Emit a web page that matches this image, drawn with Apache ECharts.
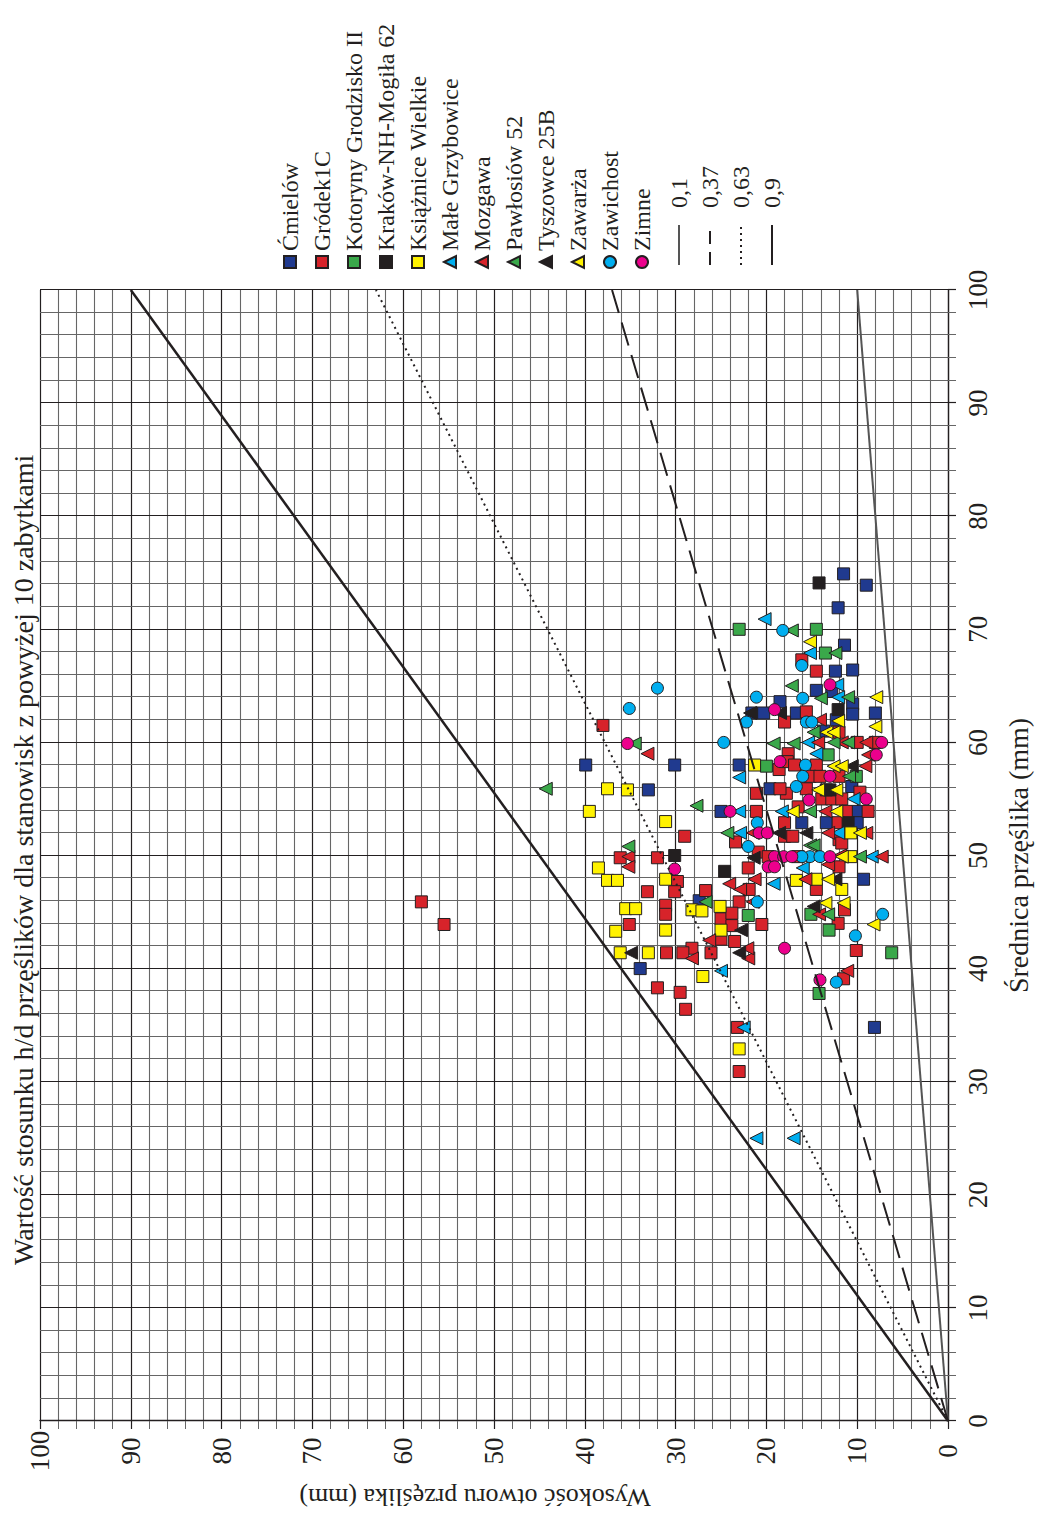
<!DOCTYPE html>
<html>
<head>
<meta charset="utf-8">
<title>Wartość stosunku h/d</title>
<script src="https://cdn.jsdelivr.net/npm/echarts@6/dist/echarts.min.js"></script>
<style>
html, body { margin: 0; padding: 0; background: #fff; overflow: hidden; }
#page { position: relative; width: 1045px; height: 1515px; overflow: hidden; }
/* the chart is drawn landscape and turned a quarter to the left */
#chart {
  position: absolute; left: 0; top: 0;
  width: 1515px; height: 1045px;
  transform-origin: 0 0;
  transform: translate(0, 1515px) rotate(-90deg);
}
</style>
</head>
<body>
<div id="page"><div id="chart"></div></div>
<script>
// values are [średnica d, wysokość otworu h] in mm
const sites = ['Ćmielów', 'Gródek1C', 'Kotoryny Grodzisko II', 'Kraków-NH-Mogiła 62',
  'Książnice Wielkie', 'Małe Grzybowice', 'Mozgawa', 'Pawłosiów 52',
  'Tyszowce 25B', 'Zawarża', 'Zawichost', 'Zimne'];

const cmielow = [[58.0,30.1],[58.0,39.9],[55.8,33.0],[46.0,27.4],[40.0,33.9],[34.8,8.1],[53.9,25.0],
  [63.6,18.5],[62.6,21.6],[62.6,20.3],[62.6,16.7],[58.0,23.0],[55.9,19.6],[74.9,11.5],[73.9,9.0],
  [71.9,12.1],[68.6,11.4],[66.3,12.4],[66.4,10.5],[64.6,14.5],[64.5,12.8],[63.4,10.5],[62.5,10.5],
  [62.6,8.0],[62.0,12.3],[61.0,13.7],[56.1,10.6],[53.9,9.9],[52.9,13.4],[52.9,10.0],[52.9,16.1],[47.9,9.3]];
const grodek = [[45.9,58.0],[43.9,55.5],[61.5,38.0],[51.7,29.0],[49.8,36.1],[49.8,32.0],[47.7,29.8],
  [46.8,33.1],[46.8,30.1],[46.9,26.7],[45.6,31.1],[44.8,31.1],[43.9,35.1],[41.8,28.2],[41.4,29.2],
  [41.4,31.0],[41.4,26.1],[41.6,10.1],[39.1,11.5],[38.3,32.0],[37.9,29.5],[36.4,28.9],[34.8,23.2],
  [30.9,23.0],[45.9,23.0],[44.4,25.0],[44.9,23.8],[43.8,23.8],[43.9,20.5],[42.6,25.0],[42.4,23.5],
  [45.2,11.4],[44.0,12.1],[53.9,21.1],[55.5,21.1],[55.5,17.8],[54.3,16.5],[52.9,18.0],[51.7,18.0],
  [51.7,17.1],[51.2,23.4],[50.3,20.9],[49.9,19.8],[49.9,16.5],[48.9,22.0],[47.0,21.9],[61.8,18.0],
  [59.0,17.6],[57.6,18.6],[58.3,17.7],[58.0,16.9],[55.9,18.5],[67.3,16.1],[66.3,14.5],[62.7,15.6],
  [60.9,12.0],[60.0,10.0],[60.0,8.0],[58.0,14.5],[57.0,15.2],[57.0,14.1],[57.0,12.0],[55.9,15.6],
  [55.6,9.7],[55.0,13.9],[55.0,12.8],[55.0,11.7],[53.9,11.2],[53.9,8.8],[52.9,12.1],[51.4,12.0],
  [51.1,11.7],[49.0,12.0],[47.0,14.5]];
const kotoryny = [[41.4,6.2],[37.8,14.2],[44.7,22.0],[44.8,15.1],[43.4,13.1],[57.9,20.0],[70.0,23.0],
  [70.0,14.5],[67.9,13.5],[58.9,13.2],[57.0,10.1]];
const krakow = [[50.0,30.1],[48.6,24.6],[74.1,14.2],[62.9,12.1],[55.8,13.4],[55.8,13.0],[52.9,11.0]];
const ksiaznice = [[55.9,37.5],[55.8,35.3],[53.9,39.5],[53.0,31.1],[48.9,38.5],[47.8,37.5],[47.8,36.4],
  [47.9,31.1],[45.3,35.5],[45.3,34.4],[45.2,28.2],[45.1,27.1],[43.3,36.6],[43.4,31.1],[41.4,36.1],
  [41.4,33.0],[39.3,27.0],[32.9,23.0],[45.5,25.1],[43.4,25.0],[58.0,21.3],[47.8,16.7],[52.0,10.7],
  [49.9,10.7],[47.9,14.5],[47.0,11.7]];
const maleGrzybowice = [[39.8,25.0],[34.8,22.5],[25.0,21.1],[25.0,17.0],[53.9,23.0],[53.9,18.3],
  [52.0,22.9],[47.5,19.2],[56.9,23.0],[70.9,20.2],[67.9,15.2],[65.1,12.2],[64.0,12.1],[60.0,15.4],
  [59.0,14.5],[55.0,10.4],[52.0,12.1],[49.9,8.4],[48.9,16.0]];
const mozgawa = [[59.0,33.1],[49.9,35.2],[49.0,35.2],[40.9,28.2],[40.9,22.0],[39.8,11.1],[45.9,21.5],
  [42.5,26.3],[41.8,22.1],[44.8,14.2],[52.0,21.5],[47.9,21.3],[47.5,24.1],[47.0,22.9],[62.0,14.1],
  [60.0,14.3],[60.0,11.7],[60.0,9.0],[58.9,8.8],[57.9,9.1],[53.9,13.5],[52.0,13.2],[52.0,9.0],
  [50.0,11.9],[49.9,7.3],[49.2,13.2],[47.9,15.7]];
const pawlosiow = [[59.9,34.5],[55.9,44.3],[54.4,27.7],[50.8,35.2],[45.9,26.7],[44.8,13.2],[52.0,24.3],
  [65.0,17.2],[59.9,19.2],[59.9,17.0],[69.9,17.2],[67.9,12.4],[63.9,14.0],[64.0,11.0],[60.9,14.8],
  [60.0,12.6],[60.0,11.0],[57.0,10.9],[53.9,15.2],[50.9,15.2],[50.9,14.8],[49.9,9.7]];
const tyszowce = [[41.4,34.9],[41.4,23.0],[43.4,22.8],[45.5,14.8],[52.0,18.6],[49.8,21.4],[62.6,21.8],
  [62.6,18.5],[57.9,10.6],[52.0,15.6],[47.9,12.4]];
const zawarza = [[45.8,13.5],[45.8,11.5],[43.9,8.2],[53.9,17.1],[68.9,15.2],[64.0,7.9],[61.9,12.1],
  [61.4,8.0],[60.9,13.4],[60.9,12.6],[57.9,12.6],[57.9,11.7],[55.8,14.3],[55.8,12.3],[53.9,12.3],
  [52.0,9.7],[49.9,11.7],[47.9,13.2]];
const zawichost = [[64.8,32.0],[63.0,35.1],[45.9,21.0],[44.8,7.2],[42.9,10.2],[38.8,12.3],[52.9,21.0],
  [50.8,22.0],[64.0,21.1],[61.8,22.2],[60.0,24.7],[56.1,16.7],[69.9,18.2],[66.8,16.1],[63.9,16.0],
  [61.8,15.6],[61.8,15.0],[58.0,15.7],[57.0,16.0],[49.9,15.2],[49.9,14.1],[49.9,16.1]];
const zimne = [[59.9,35.3],[48.8,30.1],[41.8,18.0],[39.0,14.1],[53.9,24.0],[52.0,20.8],[52.0,19.9],
  [49.9,19.1],[49.9,18.1],[49.9,17.2],[49.0,19.8],[49.0,19.1],[62.9,19.1],[58.3,18.5],[65.1,13.0],
  [60.0,7.3],[58.9,7.9],[57.0,13.0],[55.0,9.0],[54.9,15.3],[49.9,13.0]];

// h/d reference lines
const ratioNames = ['0,1', '0,37', '0,63', '0,9'];
const ratios = [0.1, 0.37, 0.63, 0.9];

const axisTicks = [0, 10, 20, 30, 40, 50, 60, 70, 80, 90, 100];

const siteData = [cmielow, grodek, kotoryny, krakow, ksiaznice, maleGrzybowice, mozgawa,
  pawlosiow, tyszowce, zawarza, zawichost, zimne];
const siteColors = ['#203a8f', '#d7232a', '#3aa84a', '#231f20', '#fff200', '#00aeef',
  '#d7232a', '#3aa84a', '#231f20', '#fff200', '#00aeef', '#ec008c'];
const siteSymbols = ['rect', 'rect', 'rect', 'rect', 'rect', 'triangle', 'triangle',
  'triangle', 'triangle', 'triangle', 'circle', 'circle'];
const lineStyles = [
  { color: '#555', width: 2, type: 'solid' },
  { color: '#231f20', width: 2, type: [24, 10] },
  { color: '#231f20', width: 2, type: [2, 4] },
  { color: '#231f20', width: 2.5, type: 'solid' }
];
// shorter dashes so the little legend sample shows two of them
const legendLineTypes = ['solid', [13, 8], [2, 4], 'solid'];

const font = '"Liberation Serif", "DejaVu Serif", serif';
const ink = '#231f20';

function axisOpts(name, gap, nameStyle, labelOpts) {
  return {
    type: 'value',
    min: axisTicks[0],
    max: axisTicks[axisTicks.length - 1],
    interval: axisTicks[1] - axisTicks[0],
    name: name,
    nameLocation: 'middle',
    nameGap: gap,
    nameTextStyle: Object.assign({ fontFamily: font, fontSize: 28, color: ink }, nameStyle),
    axisLine: { show: true, onZero: false, lineStyle: { color: ink, width: 1.3 } },
    axisTick: { show: true, inside: false, length: 8, lineStyle: { color: ink, width: 1.2 } },
    minorTick: { show: true, splitNumber: 5, length: 8, lineStyle: { color: '#666', width: 1 } },
    splitLine: { show: true, lineStyle: { color: ink, width: 1.2 } },
    minorSplitLine: { show: true, lineStyle: { color: '#666', width: 1.1 } },
    axisLabel: Object.assign({ fontFamily: font, fontSize: 27, color: ink }, labelOpts)
  };
}

const series = [];
sites.forEach(function (s, i) {
  series.push({
    name: s,
    type: 'scatter',
    data: siteData[i],
    symbol: siteSymbols[i],
    symbolSize: siteSymbols[i] === 'triangle' ? 13 : 12,
    itemStyle: { color: siteColors[i], borderColor: ink, borderWidth: 1, opacity: 1 },
    z: 2
  });
});
ratioNames.forEach(function (n, i) {
  series.push({
    name: n,
    type: 'line',
    data: [[0, 0], [100, 100 * ratios[i]]],
    symbol: 'none',
    lineStyle: lineStyles[i],
    itemStyle: { color: lineStyles[i].color },
    silent: true,
    z: 3
  });
});

const chart = echarts.init(document.getElementById('chart'), null,
  { renderer: 'svg', width: 1515, height: 1045 });

chart.setOption({
  animation: false,
  backgroundColor: '#fff',
  title: {
    text: 'Wartość stosunku h/d przęślików dla stanowisk z powyżej 10 zabytkami',
    left: 245,
    top: 4,
    textStyle: { fontFamily: font, fontSize: 28, fontWeight: 'normal', color: ink }
  },
  legend: [
    {
      orient: 'vertical',
      left: 1241,
      top: 273,
      itemWidth: 12,
      itemHeight: 12,
      itemGap: 8,
      textStyle: { fontFamily: font, fontSize: 24, lineHeight: 24, color: ink },
      data: sites
    },
    {
      orient: 'vertical',
      left: 1244,
      top: 662,
      itemWidth: 40,
      itemHeight: 12,
      itemGap: 7,
      itemStyle: { opacity: 0 },
      textStyle: { fontFamily: font, fontSize: 24, lineHeight: 24, color: ink, padding: [0, 0, 0, 12] },
      data: ratioNames.map(function (n, i) {
        return { name: n, lineStyle: { type: legendLineTypes[i] } };
      })
    }
  ],
  grid: { left: 94, right: 290, top: 40, bottom: 97, outerBoundsMode: 'none' },
  xAxis: axisOpts('Średnica przęślika (mm)', 56, {}, { margin: 16 }),
  yAxis: axisOpts('Wysokość otworu przęślika (mm)', 63, { fontSize: 26, padding: [0, 0, 0, 38] },
    { margin: 30, align: 'center' }),
  series: series
});
</script>
</body>
</html>
